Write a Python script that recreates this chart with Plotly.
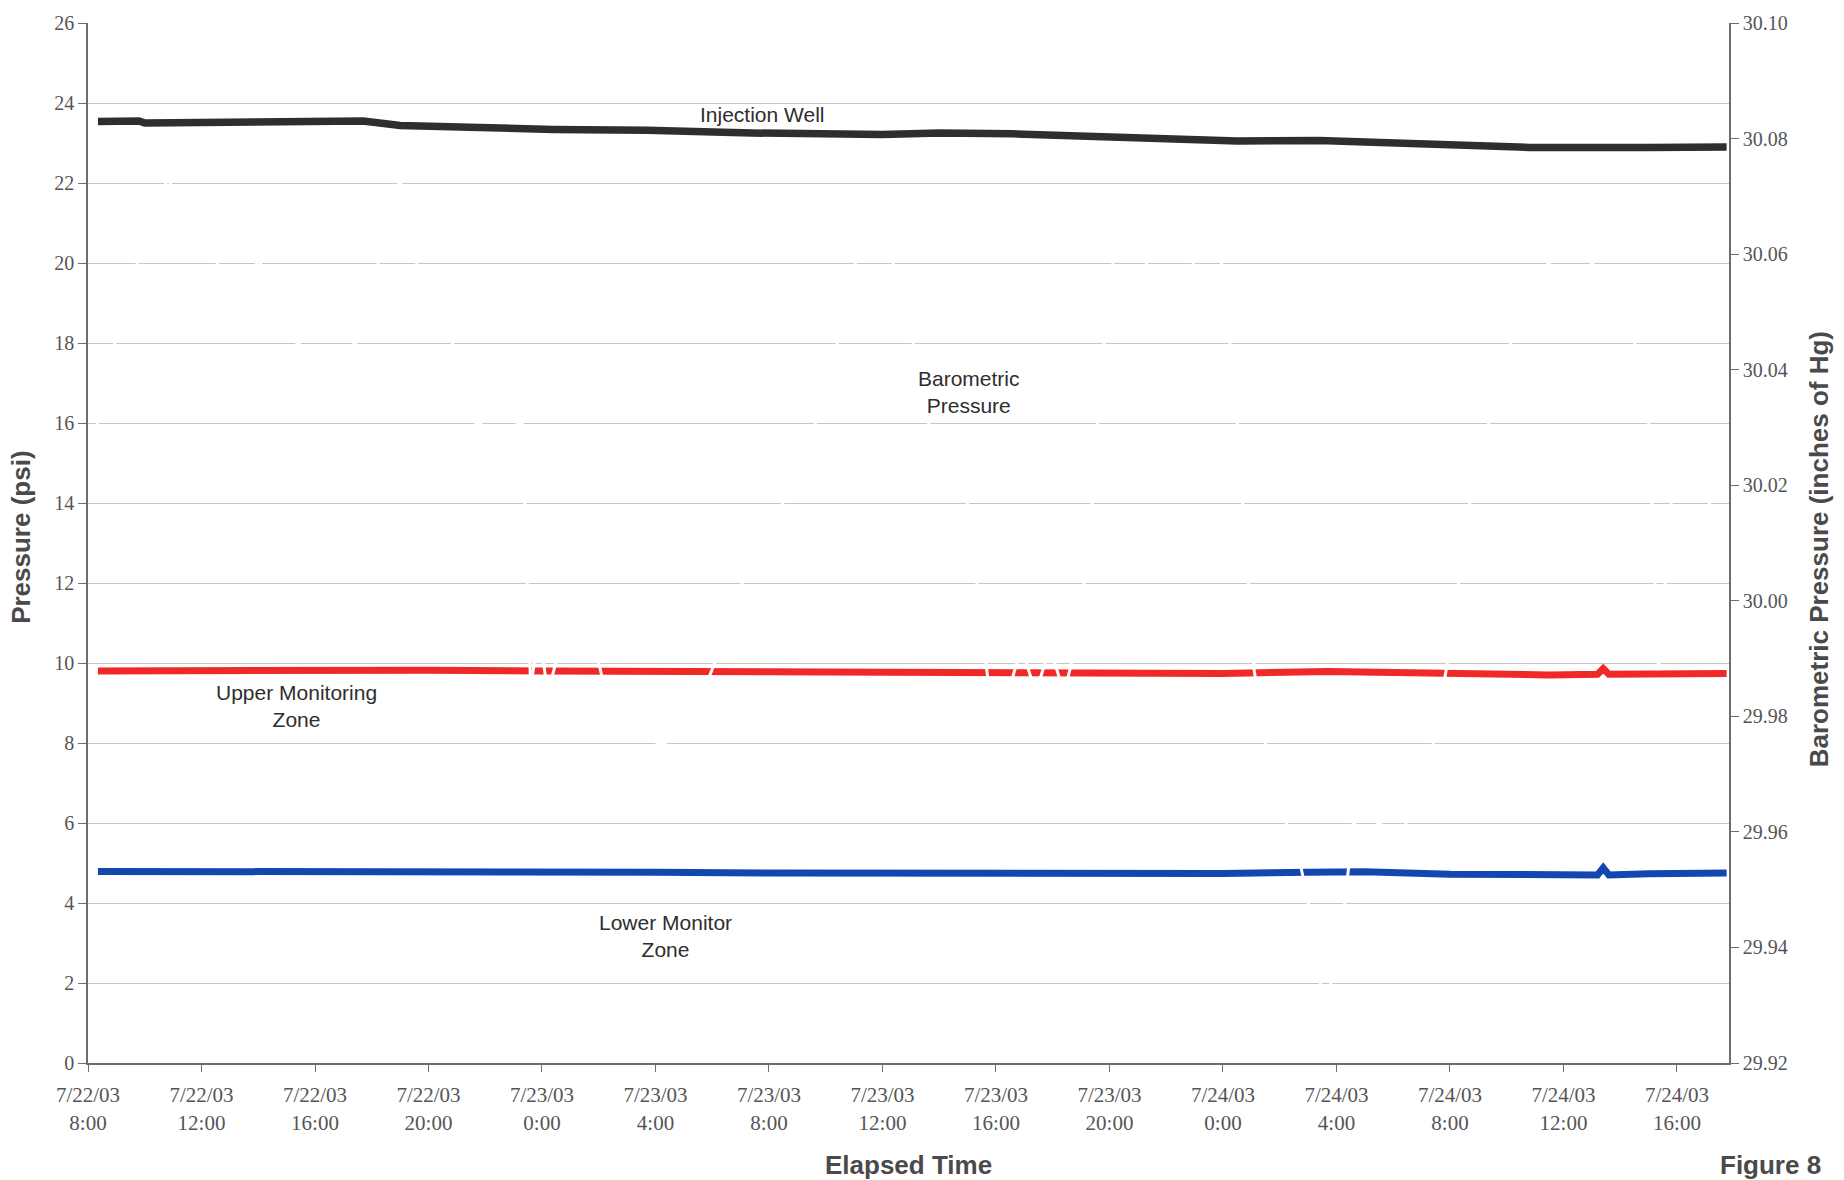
import pandas as pd
import plotly.graph_objects as go

# ---- data -------------------------------------------------------------
START = pd.Timestamp("2003-07-22 08:00")

# elapsed hours since 7/22/03 8:00 and pressure readings (psi)
inj_hours = [0.35, 1.8, 2.0, 6.8, 9.7, 11.0, 13.5, 16.4, 19.7, 23.4, 28.0, 30.0,
             32.6, 35.0, 37.6, 40.5, 43.4, 45.9, 48.8, 50.8, 55.0, 57.75]
inj_psi = [23.54, 23.55, 23.50, 23.55, 23.55, 23.44, 23.39, 23.34, 23.32, 23.25,
           23.21, 23.25, 23.23, 23.18, 23.10, 23.05, 23.06, 23.01, 22.94, 22.89,
           22.89, 22.90]

upper_hours = [0.35, 4, 8, 12, 16, 20, 24, 28, 32, 36, 40, 43.7, 47.5, 51.5,
               53.2, 53.4, 53.6, 55, 57.75]
upper_psi = [9.80, 9.81, 9.83, 9.82, 9.80, 9.79, 9.77, 9.75, 9.78, 9.76, 9.74,
             9.79, 9.74, 9.70, 9.72, 9.86, 9.72, 9.73, 9.74]

lower_hours = [0.35, 4, 8, 12, 16, 20, 24, 28, 32, 36, 40, 43, 45, 48, 51.5,
               53.2, 53.4, 53.6, 55, 57.75]
lower_psi = [4.79, 4.79, 4.81, 4.80, 4.78, 4.77, 4.75, 4.74, 4.76, 4.76, 4.74,
             4.77, 4.78, 4.72, 4.68, 4.70, 4.88, 4.70, 4.73, 4.75]

# barometric pressure (inches of Hg)
baro_hours = [0.3, 1.0, 2.0, 2.8, 3.6, 4.6, 5.4, 6.0, 6.8, 7.4, 8.5, 9.4, 10.2,
              11.0, 11.6, 12.3, 12.9, 13.6, 14.6, 15.3, 15.6, 15.9, 16.2, 16.8,
              17.5, 18.2, 19.2, 20.2, 21.2, 22.3, 23.4, 24.5, 25.6, 26.7, 27.2,
              28.0, 28.8, 29.6, 30.5, 31.0, 31.7, 32.3, 32.9, 33.4, 33.9, 34.4,
              34.8, 35.0, 35.4, 35.7, 36.2, 37.0, 37.8, 38.4, 39.2, 40.0, 40.5,
              40.7, 41.1, 41.6, 42.2, 42.7, 43.0, 43.6, 44.3, 44.6, 45.0, 45.5,
              46.0, 46.5, 47.4, 47.9, 48.7, 49.8, 51.0, 52.2, 53.1, 54.5, 55.0,
              55.35, 55.8, 56.5, 57.75]
baro_inhg = [30.030, 30.046, 30.063, 30.073, 30.067, 30.058, 30.053, 30.059,
             30.052, 30.044, 30.058, 30.044, 30.058, 30.073, 30.058, 30.050,
             30.044, 30.031, 30.029, 30.031, 29.985, 29.995, 29.984, 29.995,
             30.000, 29.985, 29.978, 29.975, 29.978, 29.992, 30.008, 30.017,
             30.030, 30.050, 30.062, 30.064, 30.052, 30.031, 30.022, 30.017,
             29.987, 29.982, 29.992, 29.984, 29.992, 29.984, 29.992, 29.998,
             30.017, 30.040, 30.062, 30.066, 30.046, 30.046, 30.064, 30.058,
             30.031, 30.017, 29.988, 29.972, 29.962, 29.955, 29.948, 29.928,
             29.948, 29.962, 29.956, 29.962, 29.957, 29.962, 29.975, 29.989,
             30.017, 30.040, 30.056, 30.062, 30.058, 30.045, 30.031, 29.988,
             30.017, 30.022, 30.012]

tick_times = ["2003-07-22 08:00", "2003-07-22 12:00", "2003-07-22 16:00",
              "2003-07-22 20:00", "2003-07-23 00:00", "2003-07-23 04:00",
              "2003-07-23 08:00", "2003-07-23 12:00", "2003-07-23 16:00",
              "2003-07-23 20:00", "2003-07-24 00:00", "2003-07-24 04:00",
              "2003-07-24 08:00", "2003-07-24 12:00", "2003-07-24 16:00"]
tick_labels = ["7/22/03<br>8:00", "7/22/03<br>12:00", "7/22/03<br>16:00",
               "7/22/03<br>20:00", "7/23/03<br>0:00", "7/23/03<br>4:00",
               "7/23/03<br>8:00", "7/23/03<br>12:00", "7/23/03<br>16:00",
               "7/23/03<br>20:00", "7/24/03<br>0:00", "7/24/03<br>4:00",
               "7/24/03<br>8:00", "7/24/03<br>12:00", "7/24/03<br>16:00"]

baro_ticks = [29.92, 29.94, 29.96, 29.98, 30.00, 30.02, 30.04, 30.06, 30.08, 30.10]
baro_tick_labels = ["29.92", "29.94", "29.96", "29.98", "30.00", "30.02",
                    "30.04", "30.06", "30.08", "30.10"]


def to_time(hours):
    return START + pd.to_timedelta(hours, unit="h")


# ---- figure -----------------------------------------------------------
fig = go.Figure()

fig.add_trace(go.Scatter(x=to_time(inj_hours), y=inj_psi, mode="lines",
                         name="Injection Well",
                         line=dict(color="#2c302c", width=7.5)))
fig.add_trace(go.Scatter(x=to_time(upper_hours), y=upper_psi, mode="lines",
                         name="Upper Monitoring Zone",
                         line=dict(color="#f02828", width=7)))
fig.add_trace(go.Scatter(x=to_time(lower_hours), y=lower_psi, mode="lines",
                         name="Lower Monitor Zone",
                         line=dict(color="#1446b0", width=7)))
fig.add_trace(go.Scatter(x=to_time(baro_hours), y=baro_inhg, mode="lines",
                         name="Barometric Pressure", yaxis="y2",
                         line=dict(color="#ffffff", width=3)))

serif = "Liberation Serif, Times New Roman, serif"
sans = "Liberation Sans, Arial, sans-serif"
tick_grey = "#555555"
axis_grey = "#6e6e6e"

fig.update_layout(
    width=1844, height=1180,
    margin=dict(l=88, r=115, t=21, b=117),
    paper_bgcolor="white", plot_bgcolor="white",
    showlegend=False,
    xaxis=dict(
        type="date",
        range=["2003-07-22 08:00", "2003-07-24 17:50"],
        tickvals=tick_times, ticktext=tick_labels,
        tickfont=dict(family=serif, size=21, color=tick_grey),
        showgrid=False, zeroline=False,
        showline=True, linecolor=axis_grey, linewidth=2,
        ticks="outside", ticklen=7, tickcolor=axis_grey, tickwidth=1,
        ticklabelstandoff=5,
    ),
    yaxis=dict(
        range=[0, 26], dtick=2, tick0=0,
        tickfont=dict(family=serif, size=20, color=tick_grey),
        showgrid=True, gridcolor="#c6c6c6", gridwidth=1,
        zeroline=False,
        showline=True, linecolor=axis_grey, linewidth=1.5,
        ticks="outside", ticklen=8, tickcolor=axis_grey,
    ),
    yaxis2=dict(
        range=[29.92, 30.10], overlaying="y", side="right",
        tickvals=baro_ticks, ticktext=baro_tick_labels,
        tickfont=dict(family=serif, size=20, color=tick_grey),
        showgrid=False, zeroline=False,
        showline=True, linecolor=axis_grey, linewidth=1.5,
        ticks="outside", ticklen=8, tickcolor=axis_grey,
    ),
)

title_font = dict(family=sans, size=26, color="#4a4a4a")
label_font = dict(family=sans, size=21, color="#2e2e2e")

annotations = [
    # axis titles
    dict(text="<b>Pressure (psi)</b>", x=-0.0408, y=0.505, textangle=-90,
         font=title_font),
    dict(text="<b>Barometric Pressure (inches of Hg)</b>", x=1.0549, y=0.494,
         textangle=-90, font=title_font),
    dict(text="<b>Elapsed Time</b>", x=0.5, y=-0.098, font=title_font),
    dict(text="<b>Figure 8</b>", x=1.025, y=-0.098, font=title_font),
    # series labels
    dict(text="Injection Well", x=0.411, y=0.912, font=label_font),
    dict(text="Barometric<br>Pressure", x=0.537, y=0.6456, font=label_font),
    dict(text="Upper Monitoring<br>Zone", x=0.127, y=0.343, font=label_font),
    dict(text="Lower Monitor<br>Zone", x=0.352, y=0.122, font=label_font),
]
for a in annotations:
    a.update(xref="paper", yref="paper", showarrow=False,
             xanchor="center", yanchor="middle")
fig.update_layout(annotations=annotations)

fig.write_html("out.html")
